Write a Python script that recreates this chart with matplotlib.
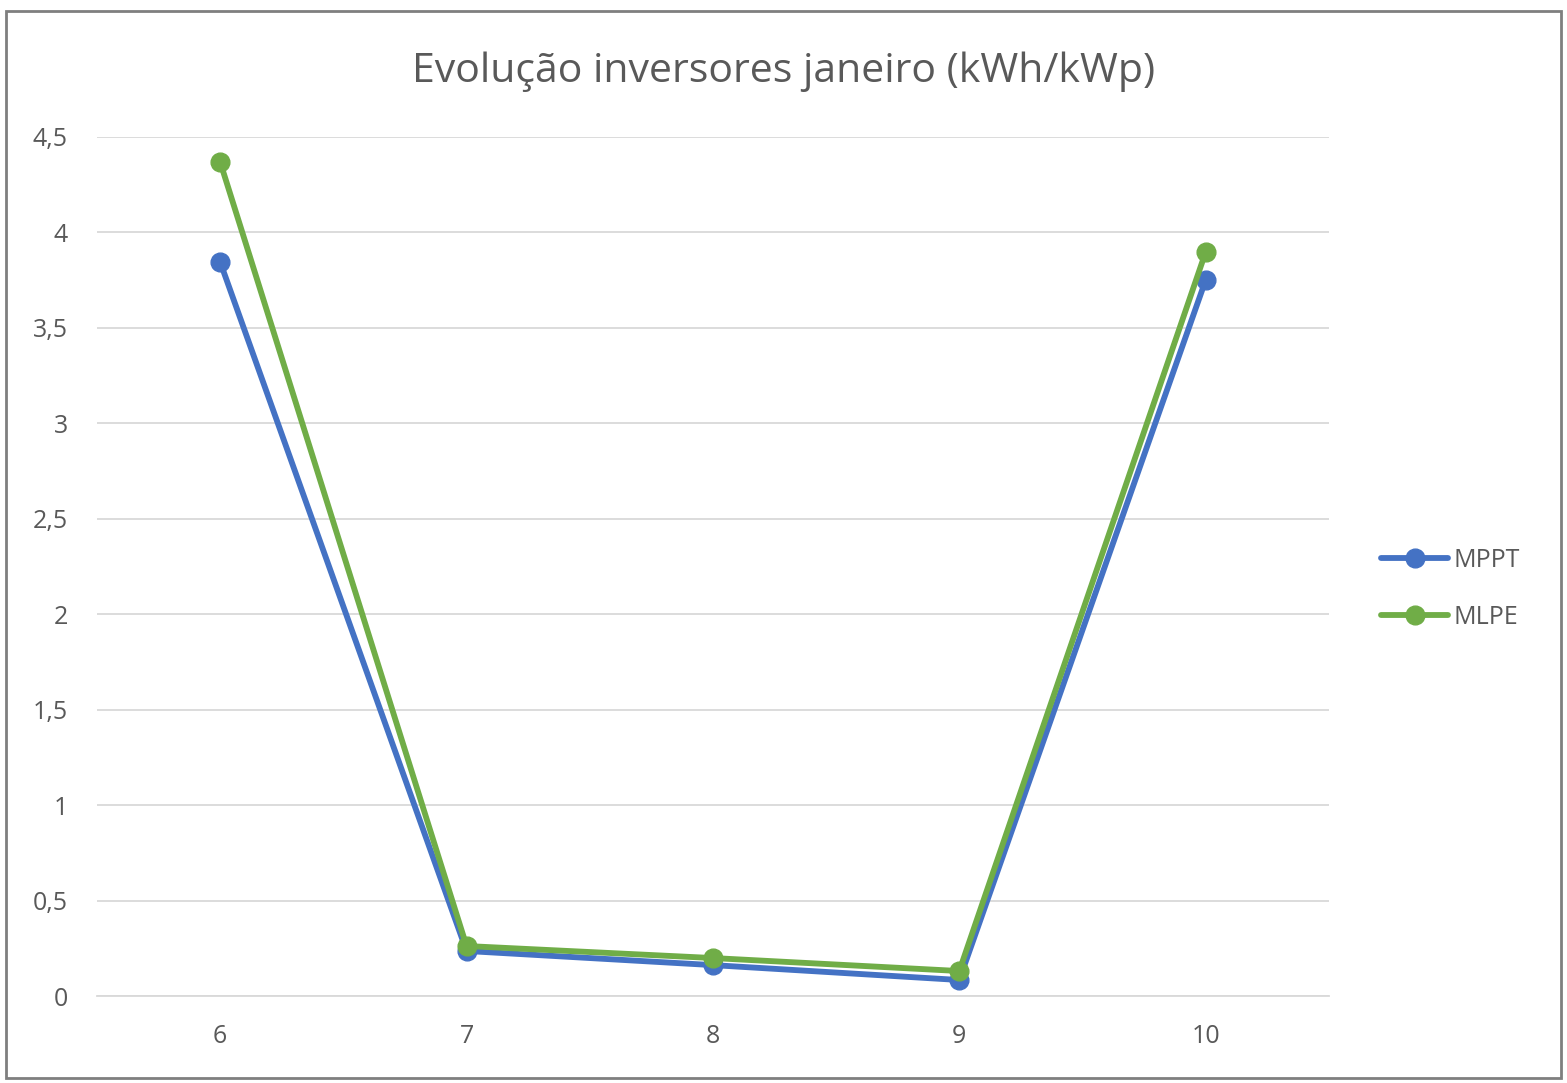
import matplotlib.pyplot as plt
from matplotlib.patches import Rectangle
from matplotlib.ticker import FuncFormatter

plt.rcParams['font.family'] = ['Open Sans', 'DejaVu Sans']

months = ['6', '7', '8', '9', '10']
mppt = [3.845, 0.236, 0.162, 0.084, 3.75]
mlpe = [4.369, 0.262, 0.199, 0.131, 3.897]

blue = '#4472C4'
green = '#70AD47'
text_col = '#595959'

fig = plt.figure(figsize=(15.67, 10.83), dpi=100)
ax = fig.add_axes([0.0619, 0.0803, 0.7861, 0.7932])

x = range(len(months))
ax.plot(x, mppt, color=blue, lw=4.2, marker='o', ms=13.5, label='MPPT', solid_capstyle='round')
ax.plot(x, mlpe, color=green, lw=4.2, marker='o', ms=13.5, label='MLPE', solid_capstyle='round')

ax.set_xlim(-0.5, 4.5)
ax.set_ylim(0, 4.5)
ax.set_yticks([0, 0.5, 1, 1.5, 2, 2.5, 3, 3.5, 4, 4.5])
ax.yaxis.set_major_formatter(FuncFormatter(lambda v, p: ('%g' % v).replace('.', ',')))
ax.set_xticks(list(x))
ax.set_xticklabels(months)
ax.grid(axis='y', color='#d9d9d9', lw=1.3)
ax.set_axisbelow(True)
for s in ['top', 'right', 'left']:
    ax.spines[s].set_visible(False)
ax.spines['bottom'].set_color('#d9d9d9')
ax.spines['bottom'].set_linewidth(1.3)
ax.tick_params(length=0, labelsize=18, colors=text_col)
ax.tick_params(axis='x', pad=20)
ax.tick_params(axis='y', pad=21)

fig.text(0.5, 0.934, 'Evolução inversores janeiro (kWh/kWp)', ha='center', va='center',
         fontsize=29.5, color=text_col)

ax.legend(loc='center left', bbox_to_anchor=(1.024, 0.474), frameon=False, fontsize=18,
          labelcolor=text_col, handlelength=2.7, handletextpad=0.2, labelspacing=1.3)

fig.patches.append(Rectangle((0.004, 0.005), 0.992, 0.985, transform=fig.transFigure,
                             fill=False, edgecolor='#7f7f7f', lw=2))

fig.savefig('out.png', dpi=100, facecolor='white')
